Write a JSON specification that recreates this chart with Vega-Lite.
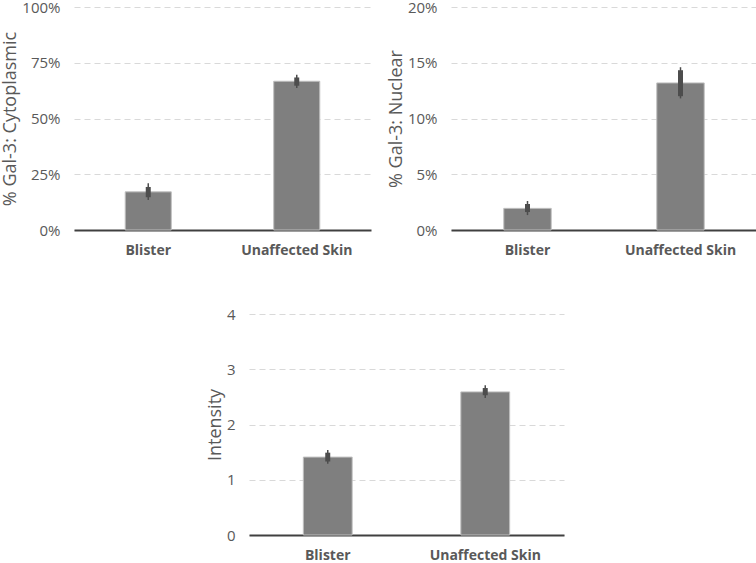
{
  "$schema": "https://vega.github.io/schema/vega-lite/v6.json",
  "background": "white",
  "padding": {"left": 1, "top": 0, "right": 0, "bottom": 0},
  "datasets": {
    "cyto": [
      {"group": "Blister", "mean": 0.171, "lo": 0.134, "hi": 0.21, "lo2": 0.147, "hi2": 0.193},
      {"group": "Unaffected Skin", "mean": 0.667, "lo": 0.637, "hi": 0.696, "lo2": 0.647, "hi2": 0.684}
    ],
    "nuc": [
      {"group": "Blister", "mean": 0.0194, "lo": 0.0134, "hi": 0.026, "lo2": 0.0161, "hi2": 0.0233},
      {"group": "Unaffected Skin", "mean": 0.1319, "lo": 0.118, "hi": 0.146, "lo2": 0.12, "hi2": 0.1433}
    ],
    "inten": [
      {"group": "Blister", "mean": 1.41, "lo": 1.29, "hi": 1.54, "lo2": 1.33, "hi2": 1.49},
      {"group": "Unaffected Skin", "mean": 2.59, "lo": 2.48, "hi": 2.71, "lo2": 2.53, "hi2": 2.66}
    ],
    "none": []
  },
  "config": {
    "view": {"stroke": null},
    "font": "Open Sans",
    "axis": {
      "labelColor": "#595959",
      "titleColor": "#595959",
      "labelFont": "Open Sans",
      "titleFont": "Open Sans",
      "ticks": false
    },
    "axisX": {
      "domainColor": "#404040",
      "domainWidth": 2,
      "labelFontWeight": "bold",
      "labelFontSize": 14,
      "labelPadding": 13,
      "labelAngle": 0,
      "grid": false
    },
    "axisY": {
      "domain": false,
      "labelFontSize": 15,
      "labelPadding": 14,
      "titleFontSize": 18,
      "titleFontWeight": "normal",
      "titlePadding": 2,
      "gridColor": "#d9d9d9",
      "gridDash": [6, 4],
      "gridWidth": 1
    },
    "concat": {"spacing": 16}
  },
  "vconcat": [
    {
      "hconcat": [
        {
          "width": 297, "height": 223,
          "data": {"name": "cyto"},
          "encoding": {
            "x": {"field": "group", "type": "nominal", "title": null, "scale": {"paddingInner": 0.69, "paddingOuter": 0.345}}
          },
          "layer": [
            {"mark": {"type": "bar", "color": "#7f7f7f", "stroke": "#bfbfbf", "strokeWidth": 1},
             "encoding": {"y": {"field": "mean", "type": "quantitative", "title": "% Gal-3: Cytoplasmic", "scale": {"domain": [0, 1]}, "axis": {"values": [0, 0.25, 0.5, 0.75, 1], "format": ".0%"}}}},
            {"mark": {"type": "rule", "color": "#4d4d4d", "strokeWidth": 1.5},
             "encoding": {"y": {"field": "lo", "type": "quantitative"}, "y2": {"field": "hi"}}},
            {"mark": {"type": "rule", "color": "#4d4d4d", "strokeWidth": 5},
             "encoding": {"y": {"field": "lo2", "type": "quantitative"}, "y2": {"field": "hi2"}}}
          ]
        },
        {
          "width": 306, "height": 223,
          "data": {"name": "nuc"},
          "encoding": {
            "x": {"field": "group", "type": "nominal", "title": null, "scale": {"paddingInner": 0.69, "paddingOuter": 0.345}}
          },
          "layer": [
            {"mark": {"type": "bar", "color": "#7f7f7f", "stroke": "#bfbfbf", "strokeWidth": 1},
             "encoding": {"y": {"field": "mean", "type": "quantitative", "title": "% Gal-3: Nuclear", "scale": {"domain": [0, 0.2]}, "axis": {"values": [0, 0.05, 0.1, 0.15, 0.2], "format": ".0%"}}}},
            {"mark": {"type": "rule", "color": "#4d4d4d", "strokeWidth": 1.5},
             "encoding": {"y": {"field": "lo", "type": "quantitative"}, "y2": {"field": "hi"}}},
            {"mark": {"type": "rule", "color": "#4d4d4d", "strokeWidth": 5},
             "encoding": {"y": {"field": "lo2", "type": "quantitative"}, "y2": {"field": "hi2"}}}
          ]
        }
      ],
      "resolve": {"scale": {"x": "independent", "y": "independent"}}
    },
    {
      "hconcat": [
        {
          "width": 116, "height": 221,
          "data": {"name": "none"},
          "mark": {"type": "point", "opacity": 0},
          "encoding": {}
        },
        {
          "width": 315, "height": 221,
          "data": {"name": "inten"},
          "encoding": {
            "x": {"field": "group", "type": "nominal", "title": null, "scale": {"paddingInner": 0.69, "paddingOuter": 0.345}}
          },
          "layer": [
            {"mark": {"type": "bar", "color": "#7f7f7f", "stroke": "#bfbfbf", "strokeWidth": 1},
             "encoding": {"y": {"field": "mean", "type": "quantitative", "title": "Intensity", "scale": {"domain": [0, 4]}, "axis": {"values": [0, 1, 2, 3, 4], "format": "d"}}}},
            {"mark": {"type": "rule", "color": "#4d4d4d", "strokeWidth": 1.5},
             "encoding": {"y": {"field": "lo", "type": "quantitative"}, "y2": {"field": "hi"}}},
            {"mark": {"type": "rule", "color": "#4d4d4d", "strokeWidth": 5},
             "encoding": {"y": {"field": "lo2", "type": "quantitative"}, "y2": {"field": "hi2"}}}
          ]
        }
      ],
      "resolve": {"scale": {"x": "independent", "y": "independent"}}
    }
  ],
  "spacing": 50,
  "resolve": {"scale": {"x": "independent", "y": "independent"}}
}
